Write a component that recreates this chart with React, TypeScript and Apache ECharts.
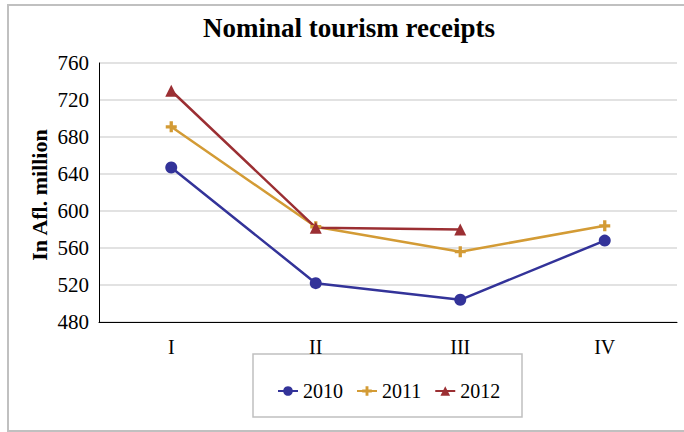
import React, { useEffect, useRef } from "react";
import * as echarts from "echarts";

const categories = ["I", "II", "III", "IV"];
const s2010 = [647, 522, 504, 568];
const s2011 = [691, 583, 556, 584];
const s2012: (number | null)[] = [730, 582, 580, null];
const seriesNames = ["2010", "2011", "2012"];

const FONT = "Liberation Serif";
const PLUS = "path://M3.5,0H6.5V3.5H10V6.5H6.5V10H3.5V6.5H0V3.5H3.5Z";

export default function App() {
  const ref = useRef<HTMLDivElement>(null);
  useEffect(() => {
    if (!ref.current) return;
    const chart = echarts.init(ref.current, undefined, { renderer: "svg" });
    chart.setOption({
      animation: false,
      backgroundColor: "#fff",
      textStyle: { fontFamily: FONT },
      grid: { left: 99, right: 7, top: 63, bottom: 110, containLabel: false },
      graphic: [
        {
          type: "rect",
          shape: { x: 8, y: 5, width: 690, height: 426 },
          style: { fill: "none", stroke: "#c0c0c0", lineWidth: 2 },
          silent: true,
        },
        {
          type: "text",
          x: 349,
          y: 28,
          style: {
            text: "Nominal tourism receipts",
            fontFamily: FONT,
            fontSize: 27,
            fontWeight: "bold",
            fill: "#000",
            textAlign: "center",
            textVerticalAlign: "middle",
          },
        },
        {
          type: "text",
          x: 39,
          y: 195,
          rotation: Math.PI / 2,
          style: {
            text: "In Afl. million",
            fontFamily: FONT,
            fontSize: 22,
            fontWeight: "bold",
            fill: "#000",
            textAlign: "center",
            textVerticalAlign: "middle",
          },
        },
        {
          type: "rect",
          shape: { x: 253, y: 354, width: 269, height: 63 },
          style: { fill: "none", stroke: "#c0c0c0", lineWidth: 1.5 },
          silent: true,
        },
      ],
      legend: {
        data: seriesNames,
        left: 272,
        top: 376,
        itemGap: 13,
        itemWidth: 20,
        itemHeight: 12,
        textStyle: { fontFamily: FONT, fontSize: 20, color: "#000" },
      },
      xAxis: {
        type: "category",
        data: categories,
        boundaryGap: true,
        axisLine: { lineStyle: { color: "#000", width: 1 } },
        axisTick: { show: false },
        axisLabel: { fontFamily: FONT, fontSize: 20, color: "#000", margin: 15 },
      },
      yAxis: {
        type: "value",
        min: 480,
        max: 760,
        interval: 40,
        axisLine: { show: true, lineStyle: { color: "#000", width: 1 } },
        axisTick: { show: false },
        axisLabel: { fontFamily: FONT, fontSize: 21, color: "#000", margin: 10 },
        splitLine: { lineStyle: { color: "#d9d9d9", width: 1.5 } },
      },
      series: [
        {
          name: "2010",
          type: "line",
          data: s2010,
          symbol: "circle",
          symbolSize: 12,
          itemStyle: { color: "#333399" },
          lineStyle: { color: "#333399", width: 2.5 },
        },
        {
          name: "2011",
          type: "line",
          data: s2011,
          symbol: PLUS,
          symbolSize: 11,
          itemStyle: { color: "#d39b35" },
          lineStyle: { color: "#d39b35", width: 2.5 },
        },
        {
          name: "2012",
          type: "line",
          data: s2012,
          symbol: "triangle",
          symbolSize: 12,
          itemStyle: { color: "#9b2f33" },
          lineStyle: { color: "#9b2f33", width: 2.5 },
        },
      ],
    });
    return () => chart.dispose();
  }, []);
  return (
    <div
      ref={ref}
      style={{ position: "absolute", left: 0, top: 0, width: 684, height: 432 }}
    />
  );
}
